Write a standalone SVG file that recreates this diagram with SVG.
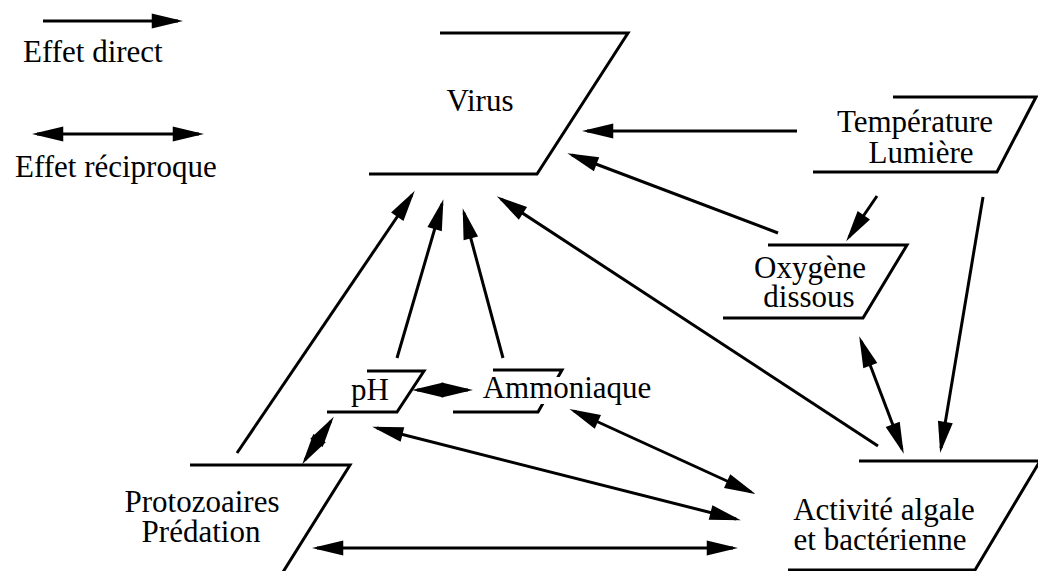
<svg xmlns="http://www.w3.org/2000/svg" width="1038" height="571" viewBox="0 0 1038 571">
<style>
text{font-family:"Liberation Serif","Times New Roman",serif;font-size:31px;fill:#000}
.box{fill:none;stroke:#000;stroke-width:3;stroke-linejoin:miter}
.c{fill:none;stroke:#000;stroke-width:3}
.d{marker-end:url(#ah)}
.r{marker-start:url(#ah);marker-end:url(#ah)}
.m{text-anchor:middle}
</style>
<defs>
<marker id="ah" markerUnits="userSpaceOnUse" markerWidth="40" markerHeight="20" viewBox="-26 -8 32 16" refX="0" refY="0" orient="auto-start-reverse" overflow="visible">
<path d="M4,0 L-21,-6 L-21,6 Z" fill="#000"/>
</marker>
</defs>
<rect width="1038" height="571" fill="#fff"/>

<g id="legend">
<line class="c d" x1="43" y1="21" x2="178" y2="21"/>
<text x="23" y="62">Effet direct</text>
<line class="c r" x1="37" y1="134" x2="199" y2="134"/>
<text x="15" y="177">Effet réciproque</text>
</g>

<g id="connectors">
<line class="c d" x1="797" y1="131" x2="587" y2="131"/>
<line class="c d" x1="778" y1="233" x2="572" y2="155"/>
<line class="c d" x1="878" y1="446" x2="501" y2="199"/>
<line class="c d" x1="237" y1="453" x2="412" y2="195"/>
<line class="c d" x1="397" y1="358" x2="442" y2="204"/>
<line class="c d" x1="503" y1="358" x2="464" y2="213"/>
<line class="c d" x1="877" y1="196" x2="849" y2="237"/>
<line class="c d" x1="983" y1="197" x2="941" y2="448"/>
<line class="c r" x1="861" y1="341" x2="902" y2="449"/>
<line class="c r" x1="417" y1="390" x2="468" y2="390"/>
<line class="c r" x1="331" y1="421" x2="305" y2="460"/>
<line class="c r" x1="377" y1="428" x2="736" y2="519"/>
<line class="c r" x1="574" y1="411" x2="751" y2="492"/>
<line class="c r" x1="317" y1="548" x2="733" y2="548"/>
</g>

<g id="virus">
<polyline class="box" points="440,33 628,33 537,174 369,174"/>
<text class="m" x="480" y="111">Virus</text>
</g>

<g id="temperature">
<polyline class="box" points="893,97 1036,97 997,172 813,172"/>
<text class="m" x="915" y="132">Température</text>
<text class="m" x="921" y="163">Lumière</text>
</g>

<g id="oxygene">
<polyline class="box" points="768,245 907,245 863,318 723,318"/>
<text class="m" x="810" y="278">Oxygène</text>
<text class="m" x="809" y="307">dissous</text>
</g>

<g id="ph">
<polyline class="box" points="367,371 424,371 397,412 327,412"/>
<text class="m" x="370" y="400">pH</text>
</g>

<g id="ammoniaque">
<polyline class="box" points="493,370 562,370 538,412 453,412"/>
<rect x="480" y="377" width="176" height="27" fill="#fff"/>
<text class="m" x="567" y="398">Ammoniaque</text>
</g>

<g id="protozoaires">
<polyline class="box" points="190,465 350,465 283,572"/>
<text class="m" x="202" y="512">Protozoaires</text>
<text class="m" x="201" y="542">Prédation</text>
</g>

<g id="activite">
<polyline class="box" points="859,461 1040,461 975,570 788,570"/>
<text class="m" x="884" y="520">Activité algale</text>
<text class="m" x="880" y="550">et bactérienne</text>
</g>
</svg>
